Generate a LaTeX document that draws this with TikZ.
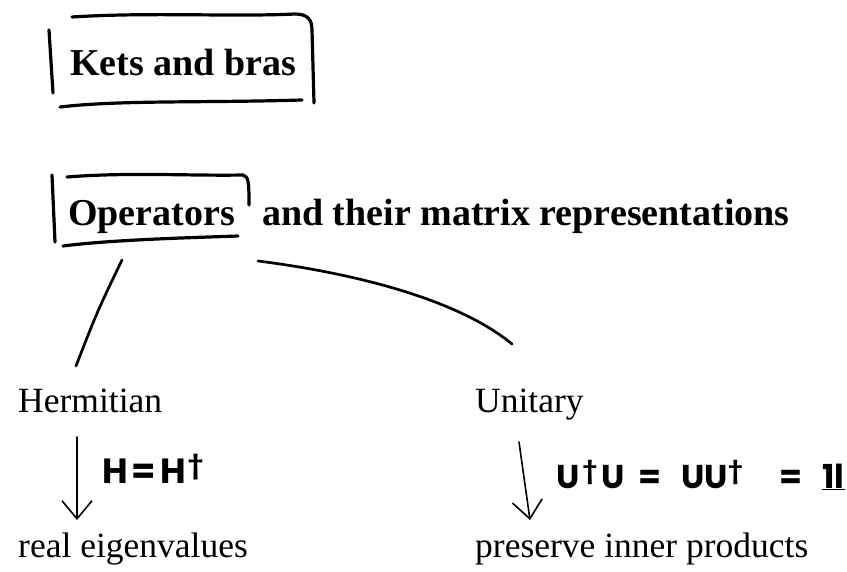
\documentclass[tikz,border=0pt]{standalone}
\usepackage{fontspec}
\setmainfont{Liberation Serif}
\newfontfamily\handfont{Poppins}
\usetikzlibrary{arrows.meta}
\begin{document}
\begin{tikzpicture}[x=1pt,y=-1pt,
  head/.style={font=\fontsize{38}{44}\selectfont\bfseries, inner sep=0pt, anchor=base west},
  body/.style={font=\fontsize{35.5}{42}\selectfont, inner sep=0pt, anchor=base west},
  hand/.style={font=\handfont\bfseries\fontsize{30}{36}\selectfont, inner sep=0pt, anchor=base west},
  pen/.style={line width=3.2pt, line cap=round, line join=round},
  link/.style={line width=2.7pt, line cap=round},
  thin/.style={line width=1.6pt, line cap=round},
  darrow/.style={thin, -{Straight Barb[length=18pt,width=30pt,line width=1.6pt]}}
]
\useasboundingbox (0,0) rectangle (847,571);

% texts
\node[head] (kets) at (70,75) {Kets and bras};
\node[head] (ops) at (68,225) {Operators};
\node[head] (rest) at (262,225) {and their matrix representations};
\node[body] (herm) at (18,412) {Hermitian};
\node[body] (unit) at (475,412) {Unitary};
\node[body] (real) at (18,557) {real eigenvalues};
\node[body] (pres) at (475,557) {preserve inner products};
\node[hand, font=\handfont\bfseries\fontsize{35}{40}\selectfont] (hlab) at (102,483)
  {H\hspace{4pt}=\hspace{4pt}H\hspace{2pt}\textsuperscript{†}};
\node[hand, font=\handfont\bfseries\fontsize{33}{38}\selectfont] (ulab) at (556,488)
  {U\hspace{3pt}\textsuperscript{†}\hspace{3pt}U\hspace{14pt}=\hspace{20pt}UU\textsuperscript{†}\hspace{36pt}=\hspace{20pt}\underline{1l}};

% hand-drawn box round "Kets and bras"
\draw[pen] (49,30) -- (53,93);
\draw[pen] (72,17) .. controls (150,12) and (230,17) .. (295,14)
  .. controls (308,14) and (312,20) .. (312,30) -- (314,103);
\draw[pen] (60,107) .. controls (120,100) and (200,103) .. (302,100);

% hand-drawn box round "Operators"
\draw[pen] (52,175) -- (55,242);
\draw[pen] (67,177) .. controls (130,172) and (190,176) .. (243,175)
  .. controls (249,176) and (249,185) .. (249,205);
\draw[pen] (63,246) .. controls (110,240) and (180,238) .. (238,236);

% connectors
\coordinate (oL) at (122,260);
\coordinate (hT) at (76,366);
\coordinate (oR) at (258,261);
\coordinate (uT) at (512,344);
\draw[link] (oL) .. controls (97,312) .. (hT);
\draw[link] (oR) .. controls (330,270) and (450,293) .. (uT);

% arrows
\coordinate (a1s) at (77,437);
\coordinate (a1e) at (77,520);
\coordinate (a2s) at (519,442);
\coordinate (a2e) at (530,520);
\draw[darrow] (a1s) -- (a1e);
\draw[darrow] (a2s) -- (a2e);
\end{tikzpicture}
\end{document}
